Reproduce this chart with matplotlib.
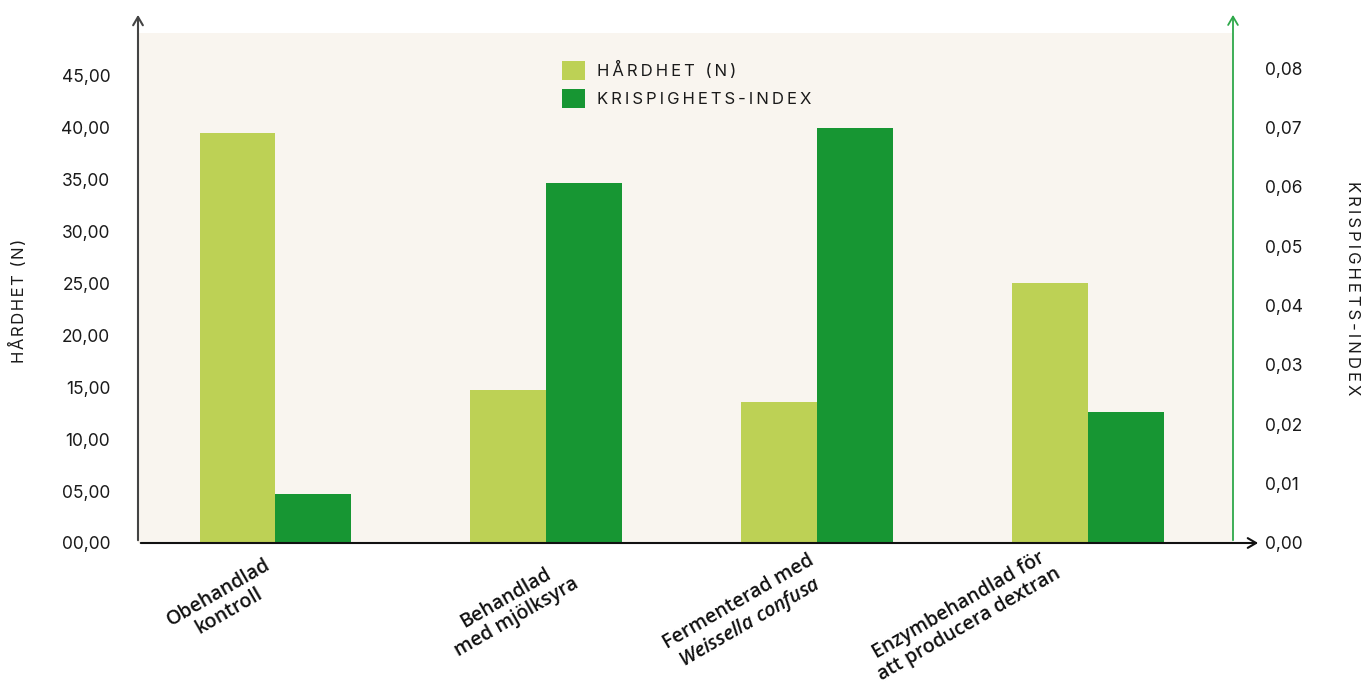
import matplotlib
matplotlib.use("Agg")
import matplotlib.pyplot as plt
import numpy as np
from matplotlib.patches import Patch

categories = [
    "Obehandlad\nkontroll",
    "Behandlad\nmed mjölksyra",
    "Fermenterad med\n$\\mathit{Weissella\\ confusa}$",
    "Enzymbehandlad för\natt producera dextran",
]
hardness = [39.4, 14.7, 13.6, 25.0]
crispness = [0.0083, 0.0606, 0.0699, 0.0221]
left_ticks = [0, 5, 10, 15, 20, 25, 30, 35, 40, 45]
left_labels = ["00,00", "05,00", "10,00", "15,00", "20,00", "25,00", "30,00", "35,00", "40,00", "45,00"]
right_ticks = [0, 0.01, 0.02, 0.03, 0.04, 0.05, 0.06, 0.07, 0.08]
right_labels = ["0,00", "0,01", "0,02", "0,03", "0,04", "0,05", "0,06", "0,07", "0,08"]
series_names = ["HÅRDHET (N)", "KRISPIGHETS-INDEX"]

LIGHT = "#BDD155"
DARK = "#179633"
BG = "#F9F5EF"
AXGREEN = "#2EA84A"

plt.rcParams["font.family"] = ["Inter", "DejaVu Sans"]
plt.rcParams["mathtext.fontset"] = "custom"
plt.rcParams["mathtext.it"] = "Open Sans:italic:semibold"
plt.rcParams["mathtext.rm"] = "Open Sans:semibold"


def spaced(s, sep="\u2009"):
    return sep.join(list(s))


fig = plt.figure(figsize=(13.71, 6.83), dpi=100)
W, H = 1371, 683
x0, x1, ytop, ybot = 138, 1233, 33, 543
ax = fig.add_axes([x0 / W, 1 - ybot / H, (x1 - x0) / W, (ybot - ytop) / H])
ax.set_facecolor(BG)
ax2 = ax.twinx()

x = np.arange(len(categories))
bw = 0.279
ax.bar(x - bw / 2, hardness, width=bw, color=LIGHT, zorder=2)
ax2.bar(x + bw / 2, crispness, width=bw, color=DARK, zorder=2)

ax.set_xlim(-0.506, 3.535)
ax.set_ylim(0, 49.04)
ax2.set_ylim(0, 0.0859)

for a in (ax, ax2):
    for s in a.spines.values():
        s.set_visible(False)
    a.tick_params(length=0)

ax.set_yticks(left_ticks)
ax.set_yticklabels(left_labels, fontsize=12.5, color="#1a1a1a")
ax.tick_params(axis="y", pad=20)
ax2.set_yticks(right_ticks)
ax2.set_yticklabels(right_labels, fontsize=12.5, color="#1a1a1a")
ax2.tick_params(axis="y", pad=23)
ax.set_xticks([])

# axis arrows
ax.annotate("", xy=(0, 1.041), xytext=(0, 0), xycoords="axes fraction",
            arrowprops=dict(arrowstyle="->,head_length=0.6,head_width=0.35", color="#444444", lw=1.5),
            annotation_clip=False)
ax.annotate("", xy=(1, 1.041), xytext=(1, 0), xycoords="axes fraction",
            arrowprops=dict(arrowstyle="->,head_length=0.6,head_width=0.35", color=AXGREEN, lw=1.3),
            annotation_clip=False)
ax2.annotate("", xy=(1.0255, 0), xytext=(0, 0), xycoords="axes fraction",
             arrowprops=dict(arrowstyle="->,head_length=0.6,head_width=0.35", color="#111111", lw=1.5),
             annotation_clip=False, zorder=5)

# axis titles
fig.text(18 / W, 1 - 301 / H, spaced("HÅRDHET (N)", "\u200A"), rotation=90, ha="center", va="center",
         fontsize=12, color="#1a1a1a")
fig.text(1352 / W, 1 - 288 / H, spaced("KRISPIGHETS-INDEX"), rotation=-90, ha="center", va="center",
         fontsize=12, color="#1a1a1a")

# category labels
centers_px = [(224, 602), (511, 608), (745, 613), (964, 615)]
for lab, (cx, cy) in zip(categories, centers_px):
    fig.text(cx / W, 1 - cy / H, lab, rotation=30, rotation_mode="anchor", ha="center", va="center",
             multialignment="center", fontsize=14, family=["Open Sans", "DejaVu Sans"], weight="semibold",
             color="#111111", linespacing=1.12)

# legend
handles = [Patch(facecolor=LIGHT, edgecolor="none"), Patch(facecolor=DARK, edgecolor="none")]
fig.legend(handles, [spaced(n) for n in series_names], loc="upper left",
           bbox_to_anchor=(547 / W, 1 - 46 / H), frameon=False, fontsize=12,
           handlelength=1.35, handleheight=1.35, handletextpad=0.75, labelspacing=0.55,
           labelcolor="#1a1a1a")

fig.savefig("out.png", dpi=100)
